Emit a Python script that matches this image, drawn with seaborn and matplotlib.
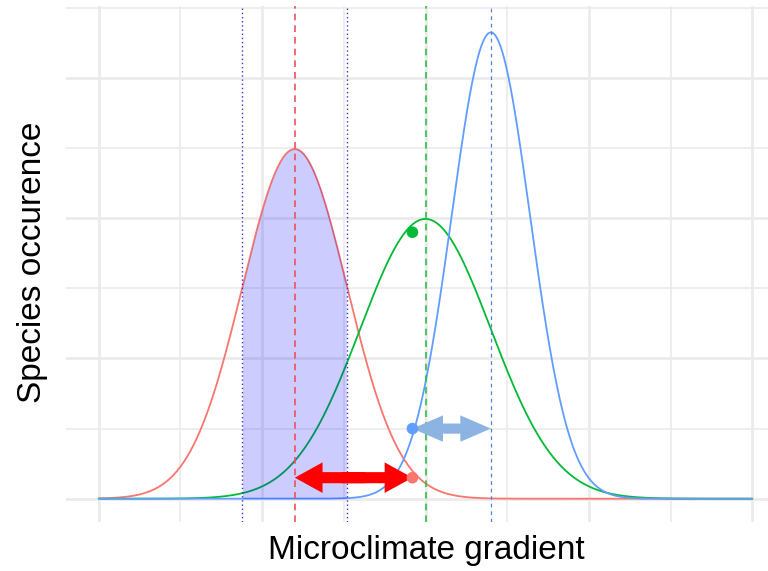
import numpy as np
import pandas as pd
import matplotlib
matplotlib.use('Agg')
import matplotlib.pyplot as plt
import seaborn as sns

# species curves: name, mean, sd, colour
species = ['red', 'green', 'blue']
means = [12.0, 20.0, 24.0]
sds = [3.2, 4.0, 2.4]
colors = ['#F8766D', '#00BA38', '#619CFF']

# shaded band under the red curve
band = [8.8, 15.2]

# points where the species sit at the current position
point_x = 19.2
point_y = [0.0075, 0.095, 0.025]   # red, green, blue

# arrows (x start, x end, y)
red_arrow = [12.0, 19.2, 0.0075]
blue_arrow = [19.2, 24.0, 0.025]

x = np.linspace(0, 40, 801)
rows = []
for name, m, s in zip(species, means, sds):
    dens = np.exp(-0.5 * ((x - m) / s) ** 2) / (s * np.sqrt(2 * np.pi))
    rows.append(pd.DataFrame({'x': x, 'y': dens, 'species': name}))
df = pd.concat(rows)

sns.set_style('white')
plt.rcParams['font.family'] = ['Liberation Sans', 'DejaVu Sans']

fig = plt.figure(figsize=(7.68, 5.71), dpi=100)
ax = fig.add_axes([66 / 768, 49 / 571, 719 / 768, 515.6 / 571])

ax.set_xlim(-2, 42)
ax.set_ylim(-0.0083, 0.1755)
ax.set_xticks([0, 10, 20, 30, 40])
ax.set_xticks([5, 15, 25, 35], minor=True)
ax.set_yticks([0, 0.05, 0.10, 0.15])
ax.set_yticks([0.025, 0.075, 0.125, 0.175], minor=True)
ax.grid(True, which='major', color='#EBEBEB', lw=2.0, zorder=0)
ax.grid(True, which='minor', color='#EBEBEB', lw=1.2, zorder=0)
ax.tick_params(which='both', length=0, labelbottom=False, labelleft=False)
for sp in ax.spines.values():
    sp.set_visible(False)

sns.lineplot(data=df, x='x', y='y', hue='species', palette=dict(zip(species, colors)),
             hue_order=species, lw=1.3, legend=False, ax=ax, zorder=3)
ax.set_xlabel('')
ax.set_ylabel('')

# shaded band
sub = df[(df.species == 'red') & (df.x >= band[0]) & (df.x <= band[1])]
ax.fill_between(sub.x, 0, sub.y, color='blue', alpha=0.2, lw=0, zorder=4)

# reference lines
for b in band:
    ax.axvline(b, color='#3333DD', ls=(0, (1, 2)), lw=1.0, zorder=5)
ax.axvline(means[0], color='#F0505A', ls=(0, (4, 3)), lw=1.2, zorder=5)
ax.axvline(means[1], color='#2CC24A', ls=(0, (4, 3)), lw=1.2, zorder=5)
ax.axvline(means[2], color='#5080E8', ls=(0, (3, 3)), lw=0.9, zorder=5)


def double_arrow(x0, x1, y, color, hl, hw, tw, z):
    mid = (x0 + x1) / 2
    d = 0.1 * (x1 - x0)
    style = f'simple,head_length={hl},head_width={hw},tail_width={tw}'
    for end, start in ((x0, mid + d), (x1, mid - d)):
        ax.annotate('', xy=(end, y), xytext=(start, y),
                    arrowprops=dict(arrowstyle=style, color=color, lw=0,
                                    shrinkA=0, shrinkB=0, mutation_scale=1),
                    zorder=z)


double_arrow(*red_arrow, 'red', 20, 22, 8, 7)
double_arrow(*blue_arrow, '#8DB3E2', 22, 19, 7, 6)

# points
for py, c in zip(point_y, colors):
    ax.scatter([point_x], [py], s=70, color=c, zorder=8, edgecolor='none')

fig.text(426 / 768, 1 - 551 / 571, 'Microclimate gradient', fontsize=24,
         ha='center', va='center', color='black')
fig.text(33 / 768, 1 - 262 / 571, 'Species occurence', fontsize=24,
         ha='center', va='center', rotation=90, color='black')

fig.savefig('out.png', dpi=100)
